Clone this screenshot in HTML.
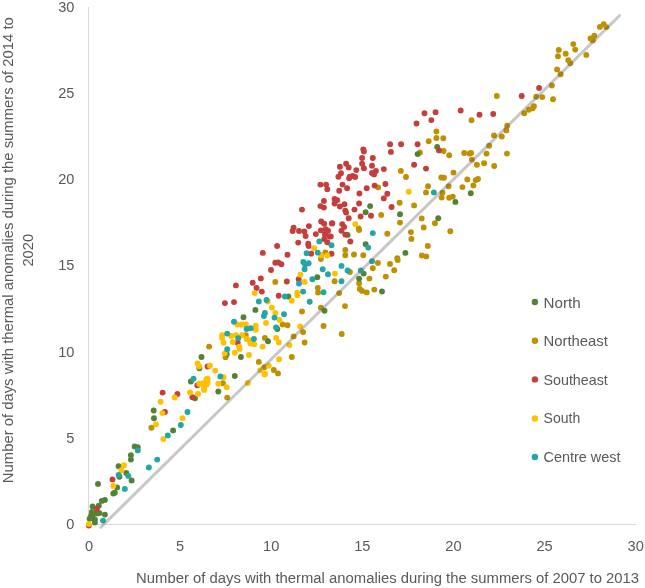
<!DOCTYPE html>
<html><head><meta charset="utf-8"><style>
html,body{margin:0;padding:0;background:#fff;}
body{width:645px;height:588px;overflow:hidden;position:relative;}
svg{position:absolute;left:0;top:0;will-change:transform;filter:blur(0.4px);}
text{font-family:"Liberation Sans",sans-serif;fill:#595959;}
</style></head><body>
<svg width="645" height="588" viewBox="0 0 645 588">
<g stroke="#d9d9d9" stroke-width="1" fill="none" shape-rendering="crispEdges">
<line x1="88.5" y1="7.4" x2="88.5" y2="524.5"/>
<line x1="88.5" y1="524.5" x2="635.7" y2="524.5"/>
</g>
<g font-size="14.6">
<text x="74.4" y="529.0" text-anchor="end">0</text><text x="74.4" y="442.8" text-anchor="end">5</text><text x="74.4" y="356.6" text-anchor="end">10</text><text x="74.4" y="270.4" text-anchor="end">15</text><text x="74.4" y="184.2" text-anchor="end">20</text><text x="74.4" y="98.0" text-anchor="end">25</text><text x="74.4" y="11.8" text-anchor="end">30</text><text x="89.0" y="550.7" text-anchor="middle">0</text><text x="180.1" y="550.7" text-anchor="middle">5</text><text x="271.2" y="550.7" text-anchor="middle">10</text><text x="362.3" y="550.7" text-anchor="middle">15</text><text x="453.4" y="550.7" text-anchor="middle">20</text><text x="544.6" y="550.7" text-anchor="middle">25</text><text x="635.7" y="550.7" text-anchor="middle">30</text>
</g>
<g fill="#bf9000"><circle cx="151.4" cy="427.8" r="2.95"/><circle cx="209.1" cy="346.6" r="2.95"/><circle cx="264.9" cy="337.9" r="2.95"/><circle cx="258.8" cy="361.9" r="2.95"/><circle cx="225.5" cy="357.3" r="2.95"/><circle cx="245.8" cy="335.2" r="2.95"/><circle cx="264.2" cy="367.3" r="2.95"/><circle cx="222.9" cy="383.3" r="2.95"/><circle cx="302.0" cy="311.5" r="2.95"/><circle cx="320.9" cy="307.6" r="2.95"/><circle cx="282.6" cy="324.5" r="2.95"/><circle cx="287.5" cy="325.2" r="2.95"/><circle cx="303.1" cy="332.1" r="2.95"/><circle cx="293.6" cy="336.4" r="2.95"/><circle cx="323.5" cy="326.0" r="2.95"/><circle cx="341.7" cy="334.0" r="2.95"/><circle cx="304.6" cy="342.5" r="2.95"/><circle cx="291.8" cy="357.0" r="2.95"/><circle cx="273.8" cy="370.0" r="2.95"/><circle cx="278.0" cy="373.4" r="2.95"/><circle cx="359.1" cy="230.0" r="2.95"/><circle cx="387.3" cy="233.8" r="2.95"/><circle cx="410.9" cy="232.1" r="2.95"/><circle cx="411.4" cy="238.9" r="2.95"/><circle cx="345.3" cy="249.9" r="2.95"/><circle cx="345.3" cy="255.2" r="2.95"/><circle cx="354.0" cy="254.5" r="2.95"/><circle cx="363.3" cy="255.2" r="2.95"/><circle cx="397.3" cy="258.3" r="2.95"/><circle cx="397.7" cy="260.1" r="2.95"/><circle cx="377.9" cy="262.9" r="2.95"/><circle cx="390.0" cy="263.9" r="2.95"/><circle cx="372.8" cy="268.2" r="2.95"/><circle cx="394.2" cy="270.2" r="2.95"/><circle cx="349.9" cy="272.0" r="2.95"/><circle cx="385.8" cy="276.6" r="2.95"/><circle cx="369.4" cy="278.6" r="2.95"/><circle cx="334.6" cy="281.2" r="2.95"/><circle cx="359.1" cy="283.2" r="2.95"/><circle cx="359.8" cy="288.9" r="2.95"/><circle cx="362.1" cy="290.9" r="2.95"/><circle cx="366.7" cy="292.4" r="2.95"/><circle cx="374.3" cy="289.6" r="2.95"/><circle cx="339.2" cy="293.1" r="2.95"/><circle cx="345.0" cy="306.1" r="2.95"/><circle cx="275.3" cy="281.9" r="2.95"/><circle cx="320.9" cy="259.0" r="2.95"/><circle cx="325.4" cy="252.4" r="2.95"/><circle cx="317.8" cy="288.0" r="2.95"/><circle cx="318.1" cy="292.6" r="2.95"/><circle cx="378.2" cy="187.4" r="2.95"/><circle cx="400.8" cy="170.9" r="2.95"/><circle cx="406.0" cy="177.0" r="2.95"/><circle cx="399.6" cy="202.7" r="2.95"/><circle cx="381.2" cy="214.9" r="2.95"/><circle cx="400.0" cy="222.6" r="2.95"/><circle cx="358.7" cy="228.4" r="2.95"/><circle cx="428.7" cy="141.2" r="2.95"/><circle cx="419.9" cy="152.5" r="2.95"/><circle cx="443.6" cy="151.0" r="2.95"/><circle cx="449.2" cy="155.3" r="2.95"/><circle cx="464.2" cy="153.0" r="2.95"/><circle cx="469.6" cy="153.5" r="2.95"/><circle cx="471.1" cy="153.0" r="2.95"/><circle cx="471.9" cy="159.6" r="2.95"/><circle cx="476.9" cy="164.8" r="2.95"/><circle cx="453.5" cy="172.6" r="2.95"/><circle cx="441.3" cy="177.5" r="2.95"/><circle cx="444.0" cy="177.8" r="2.95"/><circle cx="467.3" cy="179.4" r="2.95"/><circle cx="475.7" cy="180.1" r="2.95"/><circle cx="478.0" cy="179.0" r="2.95"/><circle cx="473.4" cy="185.4" r="2.95"/><circle cx="462.4" cy="187.1" r="2.95"/><circle cx="448.6" cy="186.3" r="2.95"/><circle cx="428.0" cy="186.2" r="2.95"/><circle cx="426.0" cy="192.4" r="2.95"/><circle cx="442.5" cy="192.8" r="2.95"/><circle cx="441.6" cy="197.6" r="2.95"/><circle cx="449.2" cy="197.8" r="2.95"/><circle cx="452.8" cy="196.6" r="2.95"/><circle cx="414.1" cy="205.4" r="2.95"/><circle cx="421.7" cy="218.4" r="2.95"/><circle cx="434.9" cy="223.3" r="2.95"/><circle cx="423.7" cy="227.5" r="2.95"/><circle cx="450.3" cy="231.2" r="2.95"/><circle cx="427.8" cy="246.0" r="2.95"/><circle cx="421.9" cy="255.5" r="2.95"/><circle cx="426.3" cy="256.4" r="2.95"/><circle cx="496.8" cy="96.0" r="2.95"/><circle cx="536.2" cy="96.8" r="2.95"/><circle cx="542.3" cy="97.1" r="2.95"/><circle cx="533.9" cy="106.2" r="2.95"/><circle cx="532.7" cy="108.2" r="2.95"/><circle cx="528.9" cy="109.8" r="2.95"/><circle cx="524.3" cy="113.3" r="2.95"/><circle cx="471.5" cy="120.2" r="2.95"/><circle cx="507.2" cy="125.8" r="2.95"/><circle cx="506.4" cy="130.4" r="2.95"/><circle cx="494.0" cy="135.4" r="2.95"/><circle cx="501.8" cy="136.5" r="2.95"/><circle cx="489.1" cy="145.7" r="2.95"/><circle cx="486.5" cy="153.6" r="2.95"/><circle cx="507.0" cy="153.6" r="2.95"/><circle cx="594.3" cy="35.8" r="2.95"/><circle cx="590.5" cy="38.4" r="2.95"/><circle cx="592.8" cy="40.4" r="2.95"/><circle cx="573.3" cy="44.1" r="2.95"/><circle cx="575.2" cy="49.6" r="2.95"/><circle cx="558.8" cy="49.9" r="2.95"/><circle cx="565.7" cy="53.7" r="2.95"/><circle cx="558.0" cy="56.3" r="2.95"/><circle cx="586.3" cy="54.9" r="2.95"/><circle cx="568.3" cy="60.3" r="2.95"/><circle cx="570.3" cy="63.3" r="2.95"/><circle cx="557.1" cy="69.4" r="2.95"/><circle cx="560.6" cy="74.3" r="2.95"/><circle cx="551.9" cy="85.5" r="2.95"/><circle cx="553.0" cy="99.3" r="2.95"/><circle cx="603.7" cy="24.1" r="2.95"/><circle cx="599.9" cy="26.9" r="2.95"/><circle cx="606.4" cy="27.1" r="2.95"/><circle cx="436.4" cy="131.4" r="2.95"/><circle cx="436.4" cy="138.0" r="2.95"/><circle cx="443.3" cy="138.3" r="2.95"/><circle cx="484.1" cy="163.2" r="2.95"/><circle cx="494.2" cy="166.0" r="2.95"/><circle cx="227.2" cy="397.6" r="2.95"/></g><g fill="#548235"><circle cx="134.7" cy="446.4" r="2.95"/><circle cx="137.8" cy="447.3" r="2.95"/><circle cx="130.9" cy="455.3" r="2.95"/><circle cx="130.9" cy="459.6" r="2.95"/><circle cx="118.6" cy="466.3" r="2.95"/><circle cx="126.3" cy="472.9" r="2.95"/><circle cx="119.4" cy="476.7" r="2.95"/><circle cx="131.6" cy="480.5" r="2.95"/><circle cx="98.0" cy="483.9" r="2.95"/><circle cx="117.1" cy="487.4" r="2.95"/><circle cx="114.8" cy="492.8" r="2.95"/><circle cx="113.3" cy="493.5" r="2.95"/><circle cx="101.8" cy="500.9" r="2.95"/><circle cx="104.9" cy="499.9" r="2.95"/><circle cx="92.6" cy="506.5" r="2.95"/><circle cx="98.8" cy="505.7" r="2.95"/><circle cx="91.9" cy="511.9" r="2.95"/><circle cx="94.2" cy="513.4" r="2.95"/><circle cx="97.2" cy="513.4" r="2.95"/><circle cx="99.5" cy="513.1" r="2.95"/><circle cx="104.9" cy="514.6" r="2.95"/><circle cx="89.6" cy="518.7" r="2.95"/><circle cx="92.6" cy="518.0" r="2.95"/><circle cx="94.9" cy="519.5" r="2.95"/><circle cx="94.9" cy="522.6" r="2.95"/><circle cx="91.1" cy="515.7" r="2.95"/><circle cx="153.7" cy="410.5" r="2.95"/><circle cx="154.0" cy="418.3" r="2.95"/><circle cx="173.1" cy="430.4" r="2.95"/><circle cx="190.9" cy="381.5" r="2.95"/><circle cx="195.0" cy="398.3" r="2.95"/><circle cx="255.4" cy="309.9" r="2.95"/><circle cx="243.5" cy="317.3" r="2.95"/><circle cx="268.0" cy="341.3" r="2.95"/><circle cx="201.5" cy="357.0" r="2.95"/><circle cx="240.9" cy="357.0" r="2.95"/><circle cx="226.7" cy="354.3" r="2.95"/><circle cx="234.8" cy="376.0" r="2.95"/><circle cx="324.5" cy="310.7" r="2.95"/><circle cx="277.3" cy="329.0" r="2.95"/><circle cx="347.6" cy="234.9" r="2.95"/><circle cx="365.6" cy="244.1" r="2.95"/><circle cx="405.4" cy="252.9" r="2.95"/><circle cx="363.6" cy="273.6" r="2.95"/><circle cx="359.1" cy="278.6" r="2.95"/><circle cx="382.0" cy="291.5" r="2.95"/><circle cx="317.3" cy="277.3" r="2.95"/><circle cx="288.3" cy="296.5" r="2.95"/><circle cx="370.1" cy="206.1" r="2.95"/><circle cx="365.6" cy="212.2" r="2.95"/><circle cx="400.0" cy="214.2" r="2.95"/><circle cx="437.2" cy="146.9" r="2.95"/><circle cx="417.6" cy="154.1" r="2.95"/><circle cx="470.8" cy="193.2" r="2.95"/><circle cx="455.4" cy="201.9" r="2.95"/><circle cx="438.2" cy="218.3" r="2.95"/><circle cx="218.3" cy="391.5" r="2.95"/><circle cx="199.4" cy="368.2" r="2.95"/></g><g fill="#c43e3c"><circle cx="112.5" cy="479.4" r="2.95"/><circle cx="96.9" cy="508.8" r="2.95"/><circle cx="88.8" cy="525.6" r="2.95"/><circle cx="162.6" cy="392.6" r="2.95"/><circle cx="177.4" cy="394.0" r="2.95"/><circle cx="164.9" cy="412.0" r="2.95"/><circle cx="197.3" cy="385.3" r="2.95"/><circle cx="192.4" cy="397.2" r="2.95"/><circle cx="224.9" cy="303.1" r="2.95"/><circle cx="234.0" cy="302.1" r="2.95"/><circle cx="207.6" cy="366.5" r="2.95"/><circle cx="237.7" cy="342.8" r="2.95"/><circle cx="341.5" cy="230.8" r="2.95"/><circle cx="345.3" cy="234.6" r="2.95"/><circle cx="330.8" cy="236.4" r="2.95"/><circle cx="350.3" cy="241.5" r="2.95"/><circle cx="331.5" cy="253.7" r="2.95"/><circle cx="321.2" cy="221.5" r="2.95"/><circle cx="324.2" cy="223.8" r="2.95"/><circle cx="331.9" cy="223.4" r="2.95"/><circle cx="308.9" cy="226.1" r="2.95"/><circle cx="293.6" cy="227.6" r="2.95"/><circle cx="292.6" cy="231.0" r="2.95"/><circle cx="299.0" cy="231.0" r="2.95"/><circle cx="304.3" cy="231.5" r="2.95"/><circle cx="305.6" cy="236.1" r="2.95"/><circle cx="315.8" cy="234.1" r="2.95"/><circle cx="320.9" cy="230.4" r="2.95"/><circle cx="325.7" cy="229.2" r="2.95"/><circle cx="328.0" cy="230.7" r="2.95"/><circle cx="325.0" cy="234.5" r="2.95"/><circle cx="329.6" cy="236.5" r="2.95"/><circle cx="324.2" cy="239.1" r="2.95"/><circle cx="327.3" cy="242.2" r="2.95"/><circle cx="298.2" cy="242.6" r="2.95"/><circle cx="308.2" cy="243.7" r="2.95"/><circle cx="308.6" cy="246.0" r="2.95"/><circle cx="277.1" cy="246.0" r="2.95"/><circle cx="262.8" cy="252.9" r="2.95"/><circle cx="287.5" cy="254.7" r="2.95"/><circle cx="311.2" cy="253.6" r="2.95"/><circle cx="275.3" cy="262.8" r="2.95"/><circle cx="278.3" cy="262.5" r="2.95"/><circle cx="281.4" cy="264.3" r="2.95"/><circle cx="271.0" cy="270.0" r="2.95"/><circle cx="260.8" cy="278.4" r="2.95"/><circle cx="286.8" cy="281.5" r="2.95"/><circle cx="298.7" cy="279.3" r="2.95"/><circle cx="261.8" cy="291.6" r="2.95"/><circle cx="278.7" cy="295.7" r="2.95"/><circle cx="390.1" cy="144.3" r="2.95"/><circle cx="401.1" cy="144.3" r="2.95"/><circle cx="390.9" cy="151.9" r="2.95"/><circle cx="363.3" cy="149.5" r="2.95"/><circle cx="363.9" cy="151.5" r="2.95"/><circle cx="362.1" cy="158.0" r="2.95"/><circle cx="372.8" cy="158.0" r="2.95"/><circle cx="346.1" cy="163.7" r="2.95"/><circle cx="348.7" cy="167.5" r="2.95"/><circle cx="339.9" cy="166.8" r="2.95"/><circle cx="362.1" cy="163.7" r="2.95"/><circle cx="363.9" cy="168.3" r="2.95"/><circle cx="372.0" cy="165.7" r="2.95"/><circle cx="383.8" cy="169.1" r="2.95"/><circle cx="356.3" cy="170.1" r="2.95"/><circle cx="375.9" cy="170.9" r="2.95"/><circle cx="372.0" cy="172.9" r="2.95"/><circle cx="374.0" cy="174.4" r="2.95"/><circle cx="341.0" cy="173.3" r="2.95"/><circle cx="338.4" cy="176.7" r="2.95"/><circle cx="349.9" cy="176.7" r="2.95"/><circle cx="352.6" cy="175.9" r="2.95"/><circle cx="355.2" cy="177.0" r="2.95"/><circle cx="349.1" cy="178.2" r="2.95"/><circle cx="342.5" cy="184.6" r="2.95"/><circle cx="347.1" cy="188.2" r="2.95"/><circle cx="339.2" cy="190.8" r="2.95"/><circle cx="366.7" cy="188.2" r="2.95"/><circle cx="374.6" cy="185.6" r="2.95"/><circle cx="385.4" cy="184.0" r="2.95"/><circle cx="359.4" cy="193.5" r="2.95"/><circle cx="387.3" cy="193.8" r="2.95"/><circle cx="383.8" cy="198.4" r="2.95"/><circle cx="334.6" cy="198.9" r="2.95"/><circle cx="337.3" cy="200.1" r="2.95"/><circle cx="334.6" cy="203.5" r="2.95"/><circle cx="339.9" cy="206.5" r="2.95"/><circle cx="344.5" cy="204.2" r="2.95"/><circle cx="359.1" cy="203.5" r="2.95"/><circle cx="345.3" cy="210.6" r="2.95"/><circle cx="346.1" cy="212.6" r="2.95"/><circle cx="354.5" cy="209.6" r="2.95"/><circle cx="391.6" cy="207.0" r="2.95"/><circle cx="360.6" cy="216.5" r="2.95"/><circle cx="371.0" cy="215.7" r="2.95"/><circle cx="348.7" cy="218.3" r="2.95"/><circle cx="332.3" cy="223.3" r="2.95"/><circle cx="342.2" cy="224.1" r="2.95"/><circle cx="344.1" cy="226.9" r="2.95"/><circle cx="320.4" cy="184.6" r="2.95"/><circle cx="326.1" cy="184.6" r="2.95"/><circle cx="327.3" cy="189.2" r="2.95"/><circle cx="323.9" cy="200.9" r="2.95"/><circle cx="320.4" cy="206.1" r="2.95"/><circle cx="323.9" cy="207.6" r="2.95"/><circle cx="302.0" cy="209.6" r="2.95"/><circle cx="417.6" cy="144.3" r="2.95"/><circle cx="439.0" cy="150.4" r="2.95"/><circle cx="414.1" cy="164.8" r="2.95"/><circle cx="426.0" cy="168.6" r="2.95"/><circle cx="539.1" cy="88.0" r="2.95"/><circle cx="521.7" cy="96.0" r="2.95"/><circle cx="479.5" cy="114.8" r="2.95"/><circle cx="493.2" cy="114.0" r="2.95"/><circle cx="424.5" cy="113.2" r="2.95"/><circle cx="435.6" cy="112.3" r="2.95"/><circle cx="431.3" cy="120.1" r="2.95"/><circle cx="416.5" cy="123.5" r="2.95"/><circle cx="460.7" cy="110.5" r="2.95"/><circle cx="252.7" cy="282.7" r="2.95"/><circle cx="256.5" cy="288.0" r="2.95"/><circle cx="235.9" cy="285.4" r="2.95"/></g><g fill="#ffc000"><circle cx="124.0" cy="465.2" r="2.95"/><circle cx="121.4" cy="470.3" r="2.95"/><circle cx="113.3" cy="485.9" r="2.95"/><circle cx="88.8" cy="524.1" r="2.95"/><circle cx="174.6" cy="397.5" r="2.95"/><circle cx="160.6" cy="401.8" r="2.95"/><circle cx="162.4" cy="413.1" r="2.95"/><circle cx="156.0" cy="424.3" r="2.95"/><circle cx="182.4" cy="418.3" r="2.95"/><circle cx="163.3" cy="439.1" r="2.95"/><circle cx="190.1" cy="392.5" r="2.95"/><circle cx="198.0" cy="394.0" r="2.95"/><circle cx="204.2" cy="389.9" r="2.95"/><circle cx="199.6" cy="383.8" r="2.95"/><circle cx="206.5" cy="379.2" r="2.95"/><circle cx="206.5" cy="384.5" r="2.95"/><circle cx="247.8" cy="383.0" r="2.95"/><circle cx="266.0" cy="322.9" r="2.95"/><circle cx="237.4" cy="324.5" r="2.95"/><circle cx="242.0" cy="324.5" r="2.95"/><circle cx="245.8" cy="324.5" r="2.95"/><circle cx="255.7" cy="325.7" r="2.95"/><circle cx="255.7" cy="329.8" r="2.95"/><circle cx="222.1" cy="335.2" r="2.95"/><circle cx="222.1" cy="337.9" r="2.95"/><circle cx="231.3" cy="335.9" r="2.95"/><circle cx="235.9" cy="335.2" r="2.95"/><circle cx="242.0" cy="335.2" r="2.95"/><circle cx="223.6" cy="342.8" r="2.95"/><circle cx="232.8" cy="342.0" r="2.95"/><circle cx="246.6" cy="339.0" r="2.95"/><circle cx="249.6" cy="340.5" r="2.95"/><circle cx="250.4" cy="343.6" r="2.95"/><circle cx="254.2" cy="344.3" r="2.95"/><circle cx="239.2" cy="346.6" r="2.95"/><circle cx="239.7" cy="348.9" r="2.95"/><circle cx="262.6" cy="346.6" r="2.95"/><circle cx="224.9" cy="353.5" r="2.95"/><circle cx="234.8" cy="352.8" r="2.95"/><circle cx="248.9" cy="355.0" r="2.95"/><circle cx="197.6" cy="363.5" r="2.95"/><circle cx="199.2" cy="366.5" r="2.95"/><circle cx="209.9" cy="365.7" r="2.95"/><circle cx="215.2" cy="370.6" r="2.95"/><circle cx="223.6" cy="377.2" r="2.95"/><circle cx="207.6" cy="378.7" r="2.95"/><circle cx="207.6" cy="382.6" r="2.95"/><circle cx="203.0" cy="383.3" r="2.95"/><circle cx="218.3" cy="383.8" r="2.95"/><circle cx="226.7" cy="387.2" r="2.95"/><circle cx="199.2" cy="383.8" r="2.95"/><circle cx="264.9" cy="373.4" r="2.95"/><circle cx="260.3" cy="370.3" r="2.95"/><circle cx="268.7" cy="365.7" r="2.95"/><circle cx="203.8" cy="388.0" r="2.95"/><circle cx="267.6" cy="301.5" r="2.95"/><circle cx="291.7" cy="300.8" r="2.95"/><circle cx="271.9" cy="307.6" r="2.95"/><circle cx="275.3" cy="313.0" r="2.95"/><circle cx="279.6" cy="319.9" r="2.95"/><circle cx="300.2" cy="326.5" r="2.95"/><circle cx="276.1" cy="337.9" r="2.95"/><circle cx="278.8" cy="342.4" r="2.95"/><circle cx="289.4" cy="345.1" r="2.95"/><circle cx="279.1" cy="359.3" r="2.95"/><circle cx="264.6" cy="374.6" r="2.95"/><circle cx="334.9" cy="273.6" r="2.95"/><circle cx="314.3" cy="248.3" r="2.95"/><circle cx="321.2" cy="255.2" r="2.95"/><circle cx="327.3" cy="255.5" r="2.95"/><circle cx="300.5" cy="274.7" r="2.95"/><circle cx="304.6" cy="281.9" r="2.95"/><circle cx="297.2" cy="292.6" r="2.95"/><circle cx="297.5" cy="295.2" r="2.95"/><circle cx="355.2" cy="224.1" r="2.95"/><circle cx="408.7" cy="191.7" r="2.95"/><circle cx="254.7" cy="293.1" r="2.95"/></g><g fill="#22a6a6"><circle cx="137.8" cy="450.4" r="2.95"/><circle cx="157.2" cy="459.6" r="2.95"/><circle cx="148.9" cy="467.5" r="2.95"/><circle cx="118.6" cy="474.9" r="2.95"/><circle cx="128.3" cy="475.9" r="2.95"/><circle cx="124.8" cy="488.9" r="2.95"/><circle cx="103.0" cy="520.6" r="2.95"/><circle cx="193.5" cy="378.7" r="2.95"/><circle cx="187.5" cy="412.0" r="2.95"/><circle cx="180.8" cy="425.0" r="2.95"/><circle cx="167.8" cy="435.4" r="2.95"/><circle cx="258.8" cy="301.5" r="2.95"/><circle cx="266.5" cy="300.0" r="2.95"/><circle cx="264.9" cy="313.0" r="2.95"/><circle cx="263.9" cy="316.0" r="2.95"/><circle cx="234.0" cy="321.7" r="2.95"/><circle cx="246.6" cy="329.0" r="2.95"/><circle cx="250.7" cy="328.3" r="2.95"/><circle cx="227.2" cy="333.6" r="2.95"/><circle cx="238.2" cy="338.2" r="2.95"/><circle cx="253.9" cy="339.0" r="2.95"/><circle cx="227.2" cy="349.2" r="2.95"/><circle cx="220.3" cy="376.5" r="2.95"/><circle cx="309.7" cy="301.8" r="2.95"/><circle cx="284.0" cy="314.2" r="2.95"/><circle cx="274.5" cy="317.6" r="2.95"/><circle cx="276.1" cy="327.5" r="2.95"/><circle cx="372.8" cy="233.1" r="2.95"/><circle cx="331.5" cy="245.3" r="2.95"/><circle cx="368.2" cy="247.6" r="2.95"/><circle cx="341.5" cy="265.9" r="2.95"/><circle cx="347.6" cy="270.5" r="2.95"/><circle cx="372.0" cy="261.3" r="2.95"/><circle cx="360.9" cy="270.5" r="2.95"/><circle cx="341.5" cy="281.2" r="2.95"/><circle cx="319.3" cy="241.4" r="2.95"/><circle cx="306.6" cy="253.3" r="2.95"/><circle cx="317.8" cy="252.6" r="2.95"/><circle cx="303.3" cy="262.0" r="2.95"/><circle cx="308.6" cy="263.3" r="2.95"/><circle cx="305.1" cy="264.6" r="2.95"/><circle cx="304.6" cy="269.2" r="2.95"/><circle cx="322.7" cy="269.2" r="2.95"/><circle cx="328.0" cy="274.3" r="2.95"/><circle cx="312.4" cy="279.3" r="2.95"/><circle cx="299.0" cy="283.5" r="2.95"/><circle cx="303.1" cy="291.6" r="2.95"/><circle cx="323.5" cy="292.3" r="2.95"/><circle cx="284.9" cy="296.5" r="2.95"/><circle cx="433.9" cy="192.4" r="2.95"/></g>
<line x1="100.9" y1="527.3" x2="619.4" y2="15.7" stroke="#646464" stroke-width="3" stroke-linecap="round" opacity="0.36"/>
<g font-size="14.3">
<circle cx="534.9" cy="302" r="3.2" fill="#548235"/><text x="543.5" y="307.6" textLength="37.2" lengthAdjust="spacingAndGlyphs">North</text><circle cx="534.9" cy="340.7" r="3.2" fill="#bf9000"/><text x="543.5" y="346.1" textLength="64.3" lengthAdjust="spacingAndGlyphs">Northeast</text><circle cx="534.9" cy="379.4" r="3.2" fill="#c43e3c"/><text x="543.5" y="384.8" textLength="64.3" lengthAdjust="spacingAndGlyphs">Southeast</text><circle cx="534.9" cy="418.4" r="3.2" fill="#ffc000"/><text x="543.5" y="423.4" textLength="36.8" lengthAdjust="spacingAndGlyphs">South</text><circle cx="534.9" cy="457.0" r="3.2" fill="#22a6a6"/><text x="543.5" y="461.9" textLength="77" lengthAdjust="spacingAndGlyphs">Centre west</text>
</g>
<text x="136.1" y="583.3" font-size="14" textLength="503" lengthAdjust="spacingAndGlyphs">Number of days with thermal anomalies during the summers of 2007 to 2013</text>
<g transform="translate(13.3,483.2) rotate(-90)">
<text x="0" y="0" font-size="14" textLength="466" lengthAdjust="spacingAndGlyphs">Number of days with thermal anomalies during the summers of 2014 to</text>
</g>
<g transform="translate(32.9,250.2) rotate(-90)">
<text x="-16.4" y="0" font-size="14.5" textLength="32.7" lengthAdjust="spacingAndGlyphs">2020</text>
</g>
</svg>
</body></html>
